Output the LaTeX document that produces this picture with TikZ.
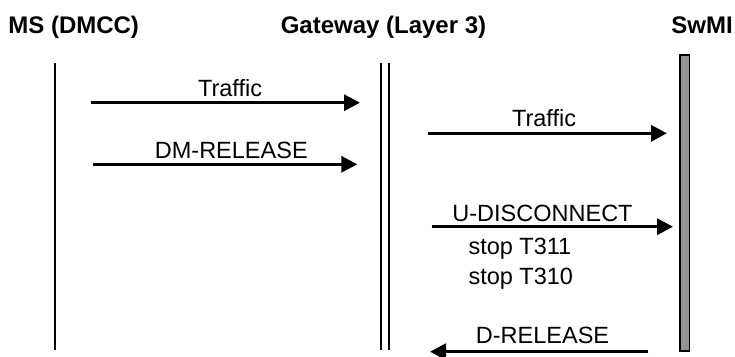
\documentclass[tikz,border=0pt]{standalone}
\usepackage{fontspec}
\setmainfont{Liberation Sans}
\usetikzlibrary{arrows.meta}
\begin{document}
\begin{tikzpicture}[x=1pt,y=-1pt,
  title/.style={font=\fontsize{24}{28}\selectfont\bfseries, anchor=base, inner sep=0pt},
  lbl/.style={font=\fontsize{23.5}{28}\selectfont, anchor=base, inner sep=0pt},
  msg/.style={line width=3.2pt, -{Triangle[length=16pt,width=16pt]}},
  life/.style={line width=1.7pt}]
\useasboundingbox (0,0) rectangle (735,356);
% titles
\node (tms) [title] at (73.7,33.3) {MS (DMCC)};
\node (tgw) [title] at (383.5,33.3) {Gateway (Layer 3)};
\node (tsw) [title] at (702,33.3) {SwMI};
% lifelines
\coordinate (mstop) at (55,63.3);
\coordinate (msbot) at (55,349.5);
\draw[life] (mstop) -- (msbot);
\coordinate (g1top) at (381,63.3);
\coordinate (g1bot) at (381,349.5);
\coordinate (g2top) at (389.3,63.3);
\coordinate (g2bot) at (389.3,349.5);
\draw[life] (g1top) -- (g1bot);
\draw[life] (g2top) -- (g2bot);
\node (swmi) [draw=black, line width=1.5pt, fill=black!42, minimum width=9.5pt,
  minimum height=296pt, inner sep=0pt, anchor=north] at (684.8,54.3) {};
% messages
\coordinate (a1s) at (91,102.7);
\coordinate (a1e) at (360,102.7);
\draw[msg] (a1s) -- (a1e);
\node (l1) [lbl] at (230,96.7) {Traffic};
\coordinate (a2s) at (93,164.3);
\coordinate (a2e) at (357.3,164.3);
\draw[msg] (a2s) -- (a2e);
\node (l2) [lbl] at (231.3,158.3) {DM-RELEASE};
\coordinate (a3s) at (428,133.3);
\coordinate (a3e) at (667,133.3);
\draw[msg] (a3s) -- (a3e);
\node (l3) [lbl] at (544,126.7) {Traffic};
\coordinate (a4s) at (431.7,226.7);
\coordinate (a4e) at (673,226.7);
\draw[msg] (a4s) -- (a4e);
\node (l4) [lbl] at (542.5,221) {U-DISCONNECT};
\node (s1) [lbl, anchor=base west] at (468.3,254) {stop T311};
\node (s2) [lbl, anchor=base west] at (468.3,284) {stop T310};
\coordinate (a5s) at (648.3,351.7);
\coordinate (a5e) at (430,351.7);
\draw[msg] (a5s) -- (a5e);
\node (l5) [lbl] at (542.5,343.3) {D-RELEASE};
\end{tikzpicture}
\end{document}
